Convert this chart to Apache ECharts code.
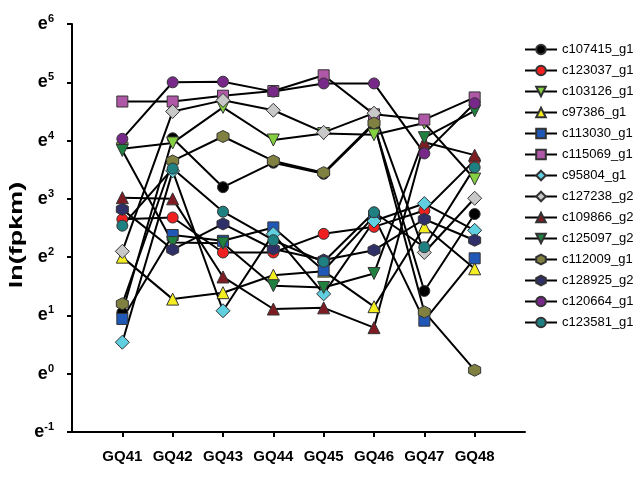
<!DOCTYPE html>
<html>
<head>
<meta charset="utf-8">
<script src="https://cdn.jsdelivr.net/npm/echarts@6/dist/echarts.min.js"></script>
<style>html,body{margin:0;padding:0;background:#fff}#c{width:640px;height:480px}</style>
</head>
<body>
<div id="c"></div>
<script>
const categories = ['GQ41','GQ42','GQ43','GQ44','GQ45','GQ46','GQ47','GQ48'];
const yExponents = [-1,0,1,2,3,4,5,6];
const yTitle = 'ln(fpkm)';

const c107415_g1 = [1.05, 4.04, 3.20, 3.62, 3.43, 4.28, 1.42, 2.74];
const c123037_g1 = [2.65, 2.68, 2.08, 2.08, 2.40, 2.52, 2.80, 3.66];
const c103126_g1 = [3.86, 3.96, 4.57, 4.01, 4.12, 4.10, 4.30, 3.34];
const c97386_g1  = [2.00, 1.28, 1.39, 1.69, 1.76, 1.15, 2.52, 1.80];
const c113030_g1 = [0.94, 2.38, 2.28, 2.51, 1.77, 2.70, 0.91, 1.98];
const c115069_g1 = [4.67, 4.67, 4.77, 4.85, 5.12, 4.45, 4.36, 4.74];
const c95804_g1  = [0.54, 3.48, 1.08, 2.40, 1.37, 2.62, 2.92, 2.46];
const c127238_g2 = [2.10, 4.50, 4.69, 4.52, 4.14, 4.47, 2.08, 3.01];
const c109866_g2 = [3.02, 3.00, 1.66, 1.11, 1.13, 0.79, 3.97, 3.75];
const c125097_g2 = [3.83, 2.25, 2.24, 1.51, 1.48, 1.72, 4.05, 4.51];
const c112009_g1 = [1.20, 3.65, 4.07, 3.65, 3.45, 4.30, 1.06, 0.06];
const c128925_g2 = [2.82, 2.13, 2.57, 2.14, 1.95, 2.12, 2.65, 2.29];
const c120664_g1 = [4.03, 5.00, 5.01, 4.84, 4.98, 4.98, 3.78, 4.64];
const c123581_g1 = [2.54, 3.52, 2.78, 2.29, 1.92, 2.77, 2.17, 3.54];

const hexagon = 'path://M0,-10 L8.66,-5 L8.66,5 L0,10 L-8.66,5 L-8.66,-5 Z';
const seriesDefs = [
  ['c107415_g1', c107415_g1, 'circle', '#000000', 0, 11],
  ['c123037_g1', c123037_g1, 'circle', '#f02020', 0, 11],
  ['c103126_g1', c103126_g1, 'triangle', '#84d040', 180, 12],
  ['c97386_g1',  c97386_g1,  'triangle', '#f4ee20', 0, 12],
  ['c113030_g1', c113030_g1, 'rect', '#2058b8', 0, 11],
  ['c115069_g1', c115069_g1, 'rect', '#b058a8', 0, 11],
  ['c95804_g1',  c95804_g1,  'diamond', '#60d0e0', 0, 14],
  ['c127238_g2', c127238_g2, 'diamond', '#c8c8c8', 0, 14],
  ['c109866_g2', c109866_g2, 'triangle', '#7e1c24', 0, 12],
  ['c125097_g2', c125097_g2, 'triangle', '#208040', 180, 12],
  ['c112009_g1', c112009_g1, hexagon, '#808040', 0, 12],
  ['c128925_g2', c128925_g2, hexagon, '#303068', 0, 12],
  ['c120664_g1', c120664_g1, 'circle', '#782888', 0, 11],
  ['c123581_g1', c123581_g1, 'circle', '#1e8080', 0, 11]
];

const xData = [''].concat(categories).concat(['']);

const chart = echarts.init(document.getElementById('c'), null, {renderer: 'canvas'});
chart.setOption({
  animation: false,
  backgroundColor: '#ffffff',
  textStyle: {fontFamily: 'Liberation Sans, Arial, sans-serif'},
  grid: {left: 72, right: 115, top: 24, bottom: 48, containLabel: false},
  graphic: [{
    type: 'text',
    x: 17, y: 235,
    rotation: Math.PI / 2,
    scaleX: 1.5,
    style: {
      text: yTitle,
      font: 'bold 18px "Liberation Sans", Arial, sans-serif',
      fill: '#000',
      align: 'center',
      verticalAlign: 'middle'
    }
  }],
  legend: {
    orient: 'vertical',
    left: 519,
    top: 38,
    itemWidth: 32,
    itemHeight: 12,
    itemGap: 8,
    textStyle: {fontSize: 13, color: '#000', fontFamily: 'Liberation Sans, Arial, sans-serif'},
    data: seriesDefs.map(d => d[0])
  },
  xAxis: {
    type: 'category',
    data: xData,
    boundaryGap: false,
    axisLine: {onZero: false, lineStyle: {color: '#000', width: 2}},
    axisTick: {show: true, length: 5, lineStyle: {color: '#000', width: 2},
      interval: (i) => i > 0 && i < xData.length - 1},
    axisLabel: {interval: 0, margin: 17, color: '#000', fontSize: 15, fontWeight: 'bold'},
    splitLine: {show: false}
  },
  yAxis: {
    type: 'value',
    min: -1, max: 6, interval: 1,
    axisLine: {show: true, lineStyle: {color: '#000', width: 2}},
    axisTick: {show: true, length: 5, lineStyle: {color: '#000', width: 2}},
    splitLine: {show: false},
    axisLabel: {
      margin: 18,
      color: '#000',
      formatter: v => yExponents.indexOf(v) >= 0 ? '{e|e}{s|' + v + '}' : '',
      rich: {
        e: {fontSize: 18, fontWeight: 'bold', color: '#000'},
        s: {fontSize: 11, fontWeight: 'bold', color: '#000', verticalAlign: 'top', padding: [0, 0, 10, 0]}
      }
    }
  },
  series: seriesDefs.map(d => ({
    name: d[0],
    type: 'line',
    data: d[1].map((v, i) => [i + 1, v]),
    symbol: d[2],
    symbolRotate: d[4],
    symbolSize: d[5],
    showAllSymbol: true,
    lineStyle: {color: '#000', width: 2},
    itemStyle: {color: d[3], borderColor: '#333', borderWidth: 1},
    emphasis: {disabled: true}
  }))
});
</script>
</body>
</html>
